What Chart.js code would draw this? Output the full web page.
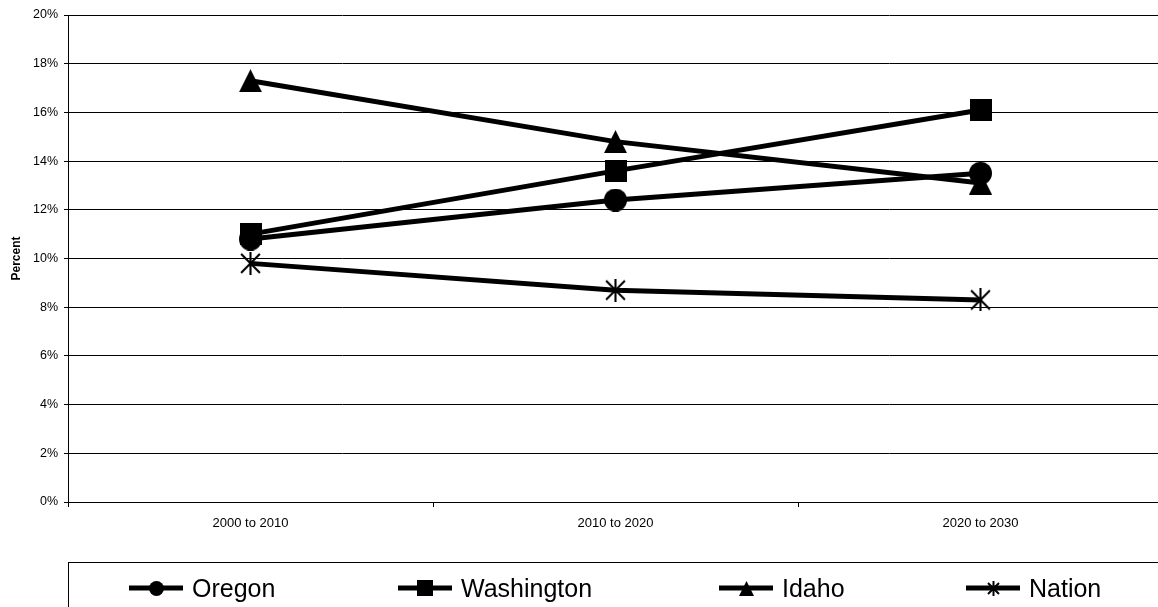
<!DOCTYPE html>
<html>
<head>
<meta charset="utf-8">
<title>Percent change</title>
<script src="https://cdn.jsdelivr.net/npm/chart.js@4/dist/chart.umd.min.js"></script>
<style>
  html, body { margin: 0; padding: 0; background: #fff; overflow: hidden; }
  #wrap { width: 1164px; height: 607px; }
  canvas { display: block; }
</style>
</head>
<body>
<div id="wrap"><canvas id="chart" width="1164" height="607"></canvas></div>
<script>
// Decade ranges on the category axis
const categories = ['2000 to 2010', '2010 to 2020', '2020 to 2030'];

// Percent growth per decade
const oregon     = [10.8, 12.4, 13.5];
const washington = [11.0, 13.6, 16.1];
const idaho      = [17.3, 14.8, 13.1];
const nation     = [9.8, 8.7, 8.3];

// Value axis range and step (percent)
const yMin = 0;
const yMax = 20;
const yStep = 2;

const seriesNames = ['Oregon', 'Washington', 'Idaho', 'Nation'];

const FONT = '"Liberation Sans", Arial, Helvetica, sans-serif';

// Build solid black marker bitmaps (circle, square, triangle, star)
function makeMarker(kind, size) {
  const c = document.createElement('canvas');
  c.width = size; c.height = size;
  const g = c.getContext('2d');
  g.fillStyle = '#000';
  g.strokeStyle = '#000';
  const s = size;
  if (kind === 'circle') {
    g.beginPath();
    g.arc(s / 2, s / 2, s / 2, 0, Math.PI * 2);
    g.fill();
  } else if (kind === 'square') {
    g.fillRect(0, 0, s, s);
  } else if (kind === 'triangle') {
    g.beginPath();
    g.moveTo(s / 2, 0);
    g.lineTo(s, s);
    g.lineTo(0, s);
    g.closePath();
    g.fill();
  } else if (kind === 'star') {
    const lw = Math.max(2, s / 11);
    const m = lw;
    g.lineWidth = lw;
    g.lineCap = 'butt';
    g.beginPath();
    g.moveTo(m, m); g.lineTo(s - m, s - m);
    g.moveTo(s - m, m); g.lineTo(m, s - m);
    g.moveTo(s / 2, 0); g.lineTo(s / 2, s);
    g.stroke();
  }
  return c;
}

const plotMarkers = [makeMarker('circle', 23), makeMarker('square', 22), makeMarker('triangle', 23), makeMarker('star', 23)];
const legendMarkers = [makeMarker('circle', 15), makeMarker('square', 16), makeMarker('triangle', 15), makeMarker('star', 15)];

// Legend row drawn in a framed box under the axis
const legendBox = {
  id: 'legendBox',
  afterDraw(chart) {
    const ctx = chart.ctx;
    ctx.save();
    ctx.strokeStyle = '#000';
    ctx.lineWidth = 1;
    ctx.strokeRect(68.5, 562.5, 1200, 100);
    const starts = [129, 398, 719, 966];
    const lineLen = 54;
    const cy = 588;
    ctx.font = '25px ' + FONT;
    ctx.textBaseline = 'alphabetic';
    ctx.textAlign = 'left';
    ctx.fillStyle = '#000';
    starts.forEach((x0, i) => {
      ctx.fillRect(x0, cy - 2.5, lineLen, 5);
      const m = legendMarkers[i];
      ctx.drawImage(m, Math.round(x0 + lineLen / 2 - m.width / 2), Math.round(cy - m.height / 2));
      ctx.fillText(seriesNames[i], x0 + lineLen + 9, cy + 9);
    });
    ctx.restore();
  }
};

const seriesData = [oregon, washington, idaho, nation];
const drawOrder = [1, 0, 2, 3];

const datasets = seriesData.map((vals, i) => ({
  label: seriesNames[i],
  data: vals,
  borderColor: '#000',
  backgroundColor: '#000',
  borderWidth: 5,
  pointStyle: plotMarkers[i],
  pointRadius: 11,
  pointHoverRadius: 11,
  tension: 0,
  order: drawOrder[i]
}));

new Chart(document.getElementById('chart'), {
  type: 'line',
  data: { labels: categories, datasets },
  plugins: [legendBox],
  options: {
    responsive: false,
    animation: false,
    events: [],
    layout: { autoPadding: false, padding: { top: 15, right: 1, bottom: 0, left: 0 } },
    plugins: {
      legend: { display: false },
      tooltip: { enabled: false },
      title: { display: false }
    },
    scales: {
      x: {
        offset: true,
        grid: {
          offset: true,
          drawOnChartArea: false,
          drawTicks: true,
          tickLength: 5,
          color: '#000',
          lineWidth: 1
        },
        border: { display: true, color: '#000', width: 1 },
        ticks: {
          color: '#000',
          font: { family: FONT, size: 13 },
          padding: 9,
          maxRotation: 0
        },
        afterFit(scale) {
          scale.height = 105;
          scale.paddingLeft = 0;
          scale.paddingRight = 0;
        }
      },
      y: {
        min: yMin,
        max: yMax,
        grid: {
          color: '#000',
          lineWidth: 1,
          drawTicks: true,
          tickLength: 4
        },
        border: { display: true, color: '#000', width: 1 },
        ticks: {
          stepSize: yStep,
          color: '#000',
          font: { family: FONT, size: 12.5 },
          padding: 6,
          callback: v => v + '%'
        },
        title: {
          display: true,
          text: 'Percent',
          color: '#000',
          font: { family: FONT, size: 12, weight: 'bold' },
          padding: { top: 9, bottom: 0 }
        },
        afterFit(scale) { scale.width = 68; }
      }
    }
  }
});
</script>
</body>
</html>
